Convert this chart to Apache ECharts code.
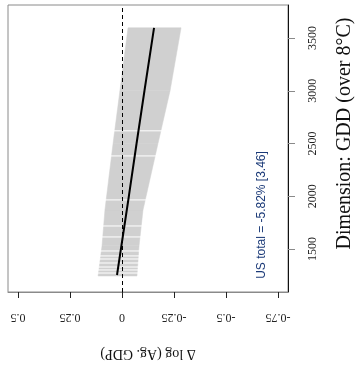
<!DOCTYPE html>
<html>
<head>
<meta charset="utf-8">
<script src="https://cdn.jsdelivr.net/npm/echarts@6/dist/echarts.min.js"></script>
<style>html,body{margin:0;padding:0;background:#fff;}#c{width:359px;height:368px;}</style>
</head>
<body>
<div id="c"></div>
<script>
// ---- data ----
const gddTicks = [1500, 2000, 2500, 3000, 3500];
const deltaTicks = [-0.75, -0.5, -0.25, 0, 0.25, 0.5];
const bandGdd = [1244, 1530, 1870, 2500, 3000, 3597];
const bandUpper = [0.115, 0.096, 0.082, 0.043, 0.010, -0.029];
const bandLower = [-0.072, -0.082, -0.101, -0.173, -0.231, -0.284];
const lineGdd = [1253, 2000, 2500, 3000, 3597];
const lineDelta = [0.024, -0.033, -0.070, -0.108, -0.154];
const gapGdd = [1272, 1301, 1329, 1367, 1405, 1434, 1481, 1614, 1718, 1965, 2382, 2620];
const annotationText = 'US total = -5.82% [3.46]';
const xName = '\u0394 log (Ag. GDP)';
const yName = 'Dimension: GDD (over 8\u00b0C)';

const chart = echarts.init(document.getElementById('c'), null, {renderer: 'canvas'});
const serif = 'Liberation Serif';

const bandData = bandGdd.map((g, i) => [g, bandUpper[i], bandLower[i]]);
const lineData = lineGdd.map((g, i) => [lineDelta[i], g]);

const option = {
  animation: false,
  backgroundColor: '#fff',
  grid: {left: 8, top: 5, right: 71, bottom: 76, show: true, borderColor: '#8a8a8a', borderWidth: 1,
         containLabel: false, outerBoundsMode: 'none'},
  xAxis: {
    type: 'value', inverse: true, min: -0.798, max: 0.548,
    name: xName, nameLocation: 'middle', nameGap: 55, nameRotate: 180,
    nameTextStyle: {fontFamily: serif, fontSize: 14, color: '#111'},
    axisLine: {show: true, onZero: false, lineStyle: {color: '#8a8a8a', width: 1}},
    axisTick: {show: true, length: 6, customValues: deltaTicks, lineStyle: {color: '#222'}},
    axisLabel: {rotate: 180, margin: 19, customValues: deltaTicks, fontFamily: serif, fontSize: 12, color: '#222',
                formatter: v => String(v)},
    splitLine: {show: false}
  },
  yAxis: {
    type: 'value', position: 'right', min: 1092, max: 3813,
    name: yName, nameLocation: 'middle', nameGap: 47,
    nameTextStyle: {fontFamily: serif, fontSize: 20, color: '#111', padding: [0, 0, 0, 30]},
    axisLine: {show: true, onZero: false, lineStyle: {color: '#111', width: 1}},
    axisTick: {show: true, length: 7, customValues: gddTicks, lineStyle: {color: '#8a8a8a'}},
    axisLabel: {rotate: 90, margin: 19, customValues: gddTicks, fontFamily: serif, fontSize: 12, color: '#222',
                formatter: v => String(v)},
    splitLine: {show: false}
  },
  graphic: [{
    type: 'text', x: 262, y: 215, rotation: Math.PI / 2, z: 10,
    style: {text: annotationText, fontFamily: 'Liberation Sans', fontSize: 12, fill: '#1b3a78', align: 'center', verticalAlign: 'middle'}
  }],
  series: [
    {
      type: 'custom', z: 1, silent: true,
      data: bandData,
      renderItem: function (params, api) {
        const i = params.dataIndex;
        if (i >= bandData.length - 1) return null;
        const a = bandData[i], b = bandData[i + 1];
        const pts = [
          api.coord([a[1], a[0]]), api.coord([b[1], b[0]]),
          api.coord([b[2], b[0]]), api.coord([a[2], a[0]])
        ];
        return {type: 'polygon', shape: {points: pts}, style: {fill: '#d0d0d0', stroke: '#d0d0d0', lineWidth: 0.5}};
      }
    },
    {
      type: 'custom', z: 2, silent: true,
      data: gapGdd.map(g => [g]),
      renderItem: function (params, api) {
        const g = api.value(0);
        const p1 = api.coord([0.2, g]), p2 = api.coord([-0.35, g]);
        return {type: 'line', shape: {x1: p1[0], y1: p1[1], x2: p2[0], y2: p2[1]}, style: {stroke: '#fff', lineWidth: 1}};
      }
    },
    {
      type: 'line', z: 3, silent: true, showSymbol: false, symbol: 'none',
      data: lineData,
      lineStyle: {color: '#000', width: 2},
      markLine: {
        silent: true, symbol: 'none', label: {show: false},
        lineStyle: {type: [4, 3], color: '#000', width: 1},
        data: [{xAxis: 0}]
      }
    }
  ]
};
chart.setOption(option);
</script>
</body>
</html>
